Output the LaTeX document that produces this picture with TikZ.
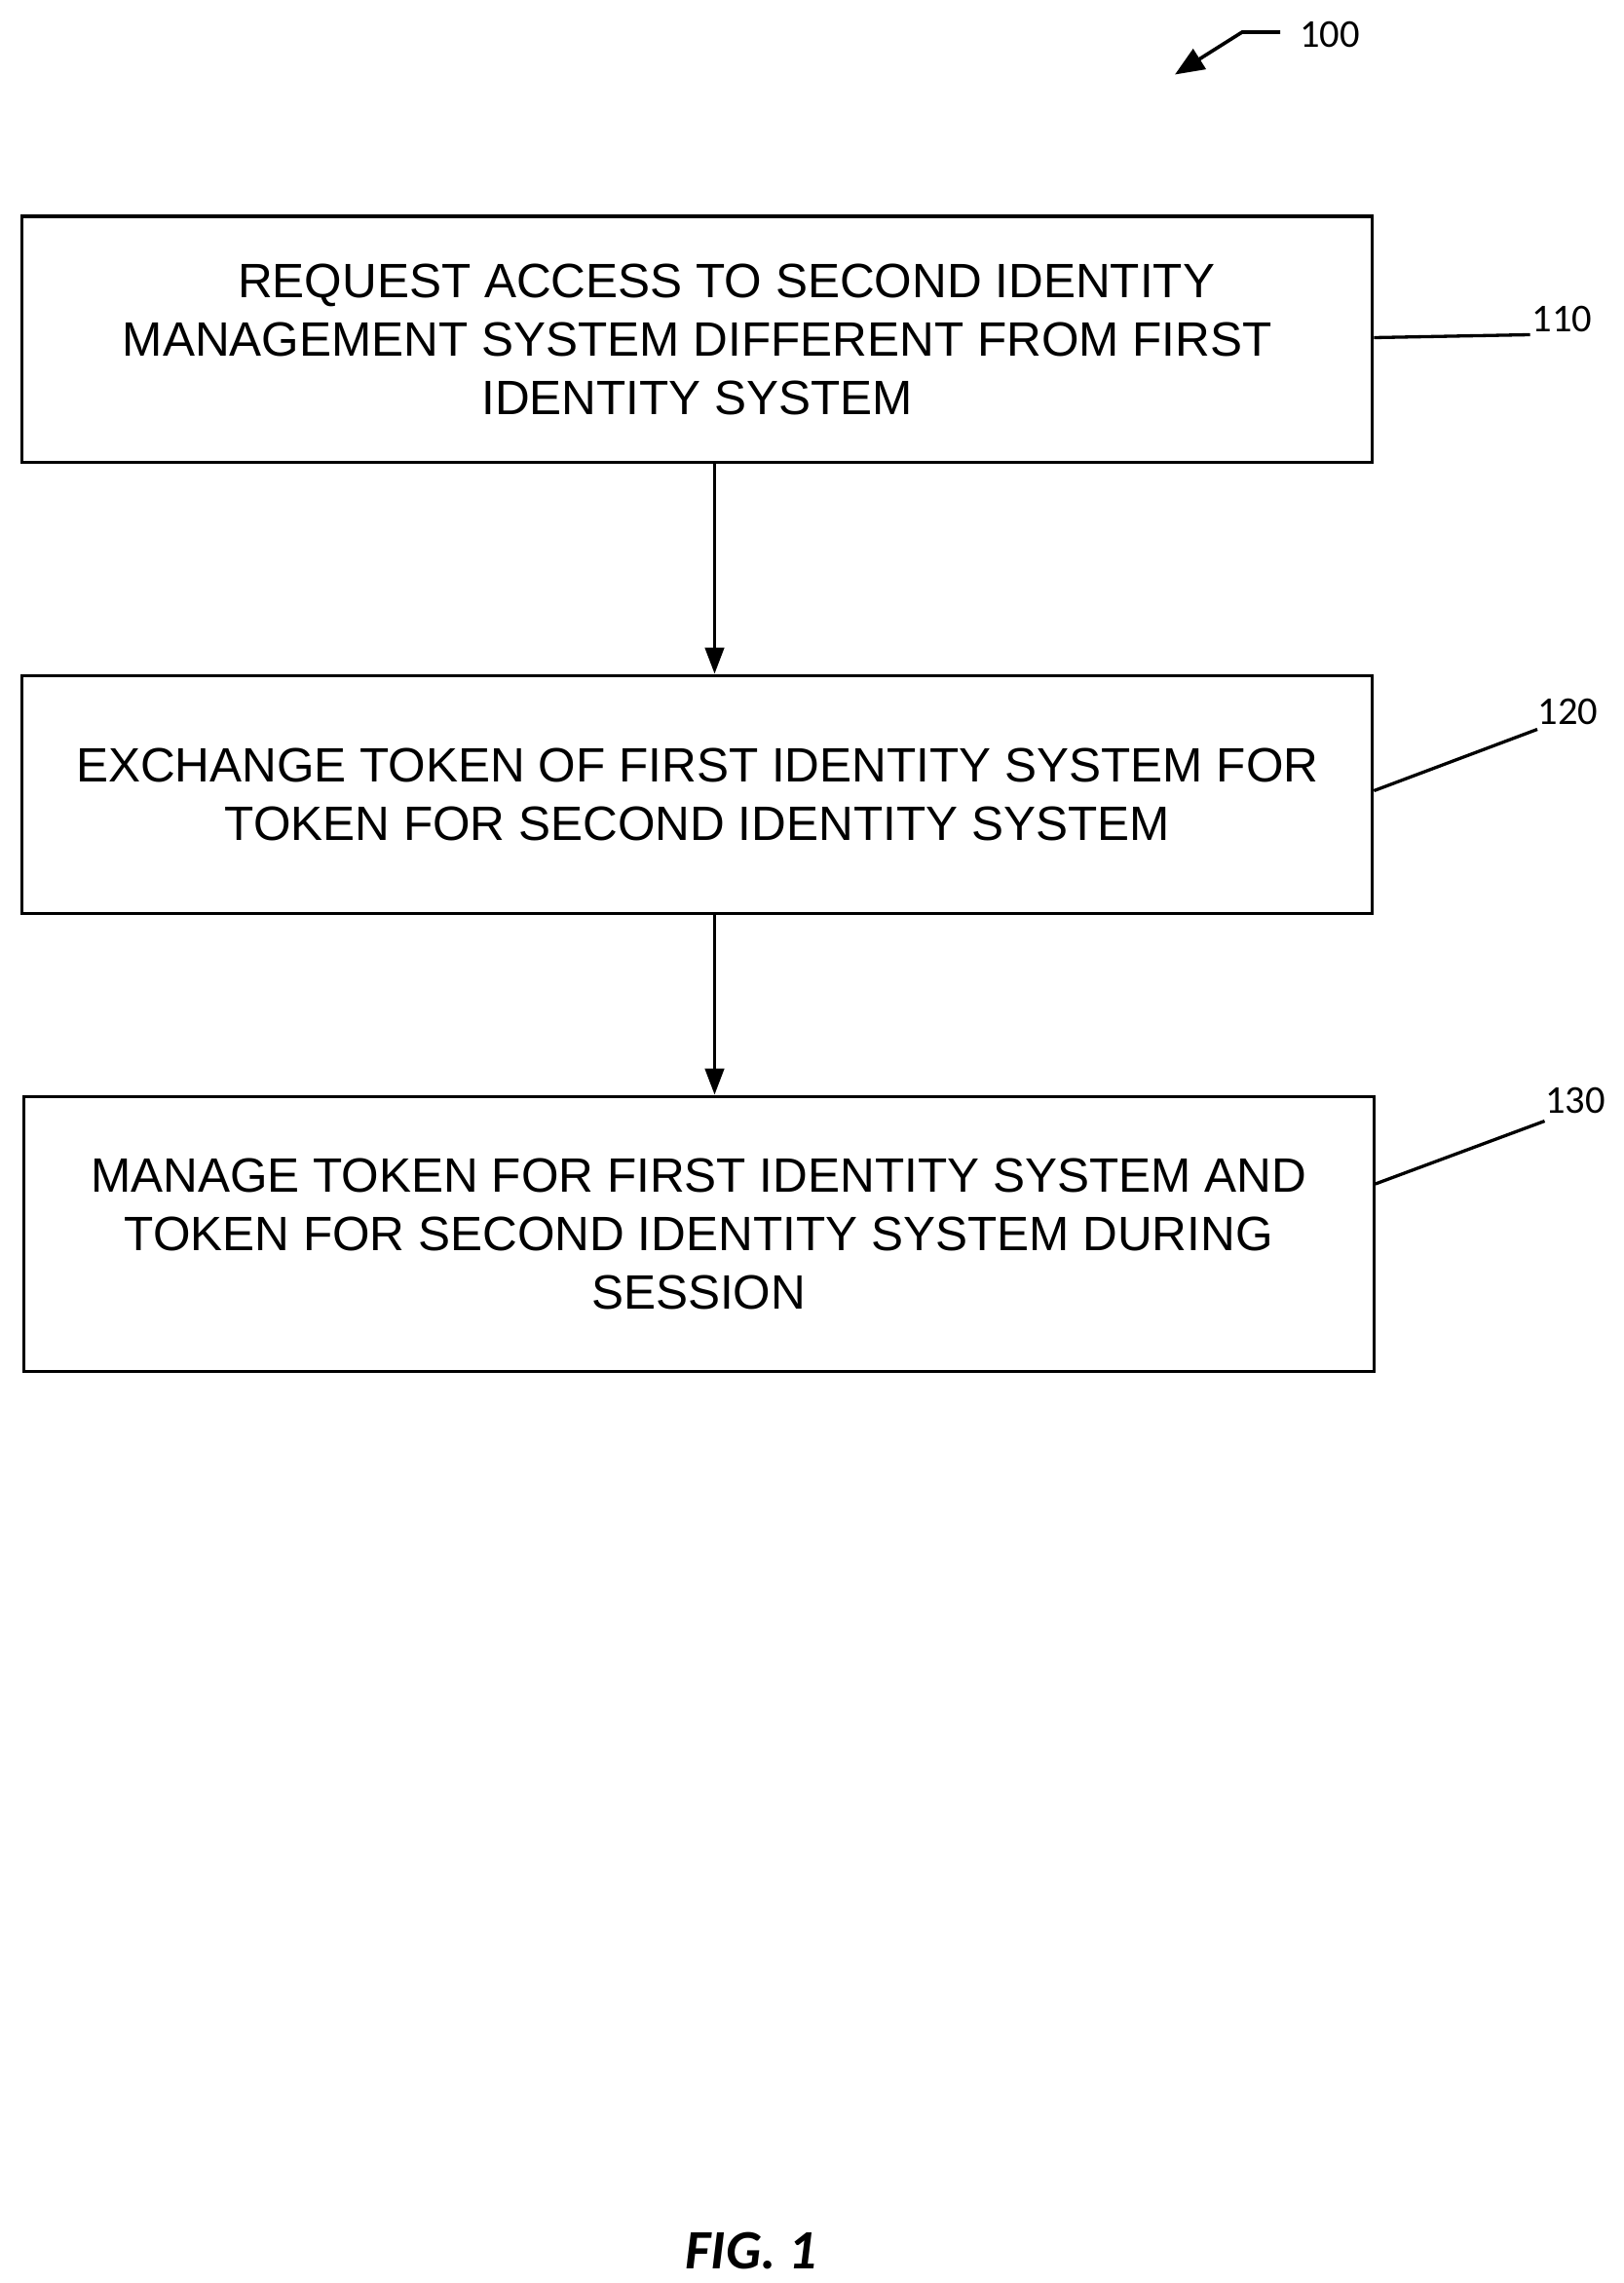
\documentclass[tikz,border=0pt]{standalone}
\usepackage{fontspec}
\setmainfont{Liberation Sans}
\newfontfamily\labfont{Carlito}
\usetikzlibrary{arrows.meta}
\begin{document}
\begin{tikzpicture}[x=1pt,y=-1pt,
  box/.style={draw,line width=2.2pt,minimum width=924pt,anchor=north west,align=center,
     font=\fontsize{33}{40}\selectfont,inner sep=0pt},
  lab/.style={font=\labfont\fontsize{27}{30}\selectfont},
  flow/.style={line width=2.2pt,-{Triangle[length=18pt,width=13pt]}},
  lead/.style={line width=2.2pt}]
\useasboundingbox (0,0) rectangle (1110.67,1562);
\node[box,minimum height=168pt] (b1) at (14,147) {\hspace*{40pt}REQUEST ACCESS TO SECOND IDENTITY\\MANAGEMENT SYSTEM DIFFERENT FROM FIRST\\IDENTITY SYSTEM};
\node[box,minimum height=163pt] (b2) at (14,461) {EXCHANGE TOKEN OF FIRST IDENTITY SYSTEM FOR\\TOKEN FOR SECOND IDENTITY SYSTEM};
\node[box,minimum height=188pt] (b3) at (15,749) {MANAGE TOKEN FOR FIRST IDENTITY SYSTEM AND\\TOKEN FOR SECOND IDENTITY SYSTEM DURING\\SESSION};
\draw[flow] (b1.south -| 489,0) -- (b2.north -| 489,0);
\draw[flow] (b2.south -| 489,0) -- (b3.north -| 489,0);
\node[lab,anchor=west] (l1) at (1045,218) {110};
\node[lab,anchor=west] (l2) at (1049,487) {120};
\node[lab,anchor=west] (l3) at (1054,753) {130};
\coordinate (e1) at (1047,229);
\coordinate (e2) at (1052,499);
\coordinate (e3) at (1057,767);
\draw[lead] (b1.east |- 0,231) -- (e1);
\draw[lead] (b2.east |- 0,541) -- (e2);
\draw[lead] (b3.east |- 0,810) -- (e3);
\node[lab,anchor=west] (l0) at (886,24) {100};
\coordinate (a0) at (876,22);
\coordinate (a1) at (850,22);
\coordinate (a2) at (804,51);
\draw[line width=2.4pt,-{Triangle[length=20pt,width=16pt]}] (a0) -- (a1) -- (a2);
\node[font=\labfont\fontsize{38}{40}\selectfont\bfseries\itshape] (fig) at (514,1540) {FIG. 1};
\end{tikzpicture}
\end{document}
